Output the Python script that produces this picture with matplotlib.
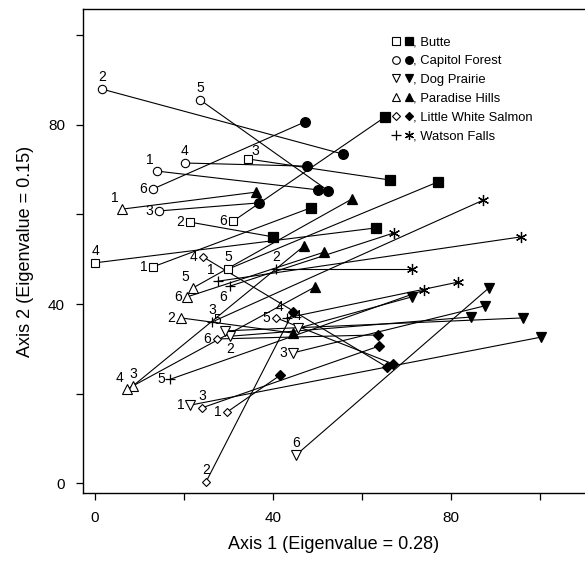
import matplotlib
matplotlib.use("Agg")
import matplotlib.pyplot as plt
from matplotlib.lines import Line2D
from matplotlib.legend_handler import HandlerTuple

plt.rcParams['font.family'] = ['Liberation Sans', 'DejaVu Sans']

sites = ["Butte", "Capitol Forest", "Dog Prairie", "Paradise Hills",
         "Little White Salmon", "Watson Falls"]
plot_ids = [1, 2, 3, 4, 5, 6]

# time-1 (open symbols) and time-2 (filled symbols) coordinates, plots 1..6
butte_x1 = [13.0, 21.3, 34.4, 0.0, 29.9, 31.0]
butte_y1 = [48.3, 58.3, 72.4, 49.2, 47.8, 58.5]
butte_x2 = [48.5, 40.0, 66.3, 63.1, 77.1, 65.2]
butte_y2 = [61.5, 55.0, 67.7, 57.0, 67.3, 81.8]

capitol_x1 = [13.9, 1.6, 14.4, 20.2, 23.6, 13.0]
capitol_y1 = [69.7, 88.0, 60.8, 71.5, 85.6, 65.7]
capitol_x2 = [50.1, 55.7, 36.9, 47.6, 52.4, 47.2]
capitol_y2 = [65.5, 73.5, 62.6, 70.8, 65.3, 80.7]

dog_x1 = [21.3, 30.3, 44.5, 45.6, 29.2, 45.2]
dog_y1 = [17.4, 32.8, 29.1, 34.6, 34.0, 6.3]
dog_x2 = [100.2, 84.5, 87.6, 71.2, 96.2, 88.5]
dog_y2 = [32.6, 37.1, 39.6, 41.6, 36.9, 43.6]

paradise_x1 = [6.1, 19.3, 8.5, 7.2, 22.0, 20.7]
paradise_y1 = [61.2, 36.9, 21.7, 21.0, 43.6, 41.6]
paradise_x2 = [36.2, 44.5, 47.0, 49.4, 57.8, 51.5]
paradise_y2 = [65.0, 33.5, 53.0, 43.8, 63.5, 51.6]

lws_x1 = [29.7, 24.9, 24.0, 24.3, 40.7, 27.4]
lws_y1 = [15.9, 0.2, 16.8, 50.5, 36.9, 32.2]
lws_x2 = [41.6, 44.5, 63.8, 65.6, 67.0, 63.6]
lws_y2 = [24.1, 38.2, 30.6, 25.9, 26.6, 33.1]

watson_x1 = [27.6, 40.7, 26.3, 43.1, 16.9, 30.3]
watson_y1 = [45.1, 47.8, 36.0, 36.9, 23.2, 44.0]
watson_x2 = [95.7, 71.2, 87.2, 81.6, 73.9, 67.2]
watson_y2 = [55.0, 47.8, 63.2, 44.9, 43.1, 55.9]

x_ticks = [0, 20, 40, 60, 80, 100]
y_ticks = [0, 20, 40, 60, 80, 100]
tick_labels = ["0", "", "40", "", "80", ""]

# ---- styles (not data) ----
site_data = [
    (butte_x1, butte_y1, butte_x2, butte_y2),
    (capitol_x1, capitol_y1, capitol_x2, capitol_y2),
    (dog_x1, dog_y1, dog_x2, dog_y2),
    (paradise_x1, paradise_y1, paradise_x2, paradise_y2),
    (lws_x1, lws_y1, lws_x2, lws_y2),
    (watson_x1, watson_y1, watson_x2, watson_y2),
]
open_markers = ['s', 'o', 'v', '^', 'D', '+']
filled_markers = ['s', 'o', 'v', '^', 'D', (6, 2, 0)]
open_sizes = [6, 6, 6.5, 6.5, 4.5, 7]
filled_sizes = [7, 7, 7.5, 7.5, 5.5, 8]
label_pos = [
    ['l', 'l', 'tr', 't', 't', 'l'],
    ['tl', 't', 'l', 't', 't', 'l'],
    ['l', 'b', 'l', 't', 'tl', 't'],
    ['tl', 'l', 't', 'tl', 'tl', 'l'],
    ['l', 't', 't', 'l', 'l', 'l'],
    ['tl', 't', 't', 'tl', 'l', 'bl'],
]
offs = {
    'l': ((-4, 0), 'right', 'center'),
    't': ((0, 3.5), 'center', 'bottom'),
    'tl': ((-2.5, 3), 'right', 'bottom'),
    'tr': ((2.5, 1), 'left', 'bottom'),
    'b': ((0, -4), 'center', 'top'),
    'bl': ((-2, -2.5), 'right', 'top'),
}

fig = plt.figure(figsize=(5.85, 5.64), dpi=100)
ax = fig.add_axes([0.142, 0.126, 0.858, 0.858])

for s, (x1, y1, x2, y2) in enumerate(site_data):
    for i in range(len(plot_ids)):
        ax.plot([x1[i], x2[i]], [y1[i], y2[i]], color='black', lw=0.8, zorder=1)
    if open_markers[s] == '+':
        ax.plot(x1, y1, ls='', marker='+', ms=open_sizes[s], mec='black', mew=0.9, zorder=3)
    else:
        ax.plot(x1, y1, ls='', marker=open_markers[s], ms=open_sizes[s],
                mfc='white', mec='black', mew=0.8, zorder=3)
    ax.plot(x2, y2, ls='', marker=filled_markers[s], ms=filled_sizes[s],
            mfc='black', mec='black', mew=0.9, zorder=3)
    for i, pid in enumerate(plot_ids):
        (dx, dy), ha, va = offs[label_pos[s][i]]
        ax.annotate(str(pid), (x1[i], y1[i]), xytext=(dx, dy), textcoords='offset points',
                    ha=ha, va=va, fontsize=10, zorder=4)

ax.set_xlim(-2.7, 110.1)
ax.set_ylim(-2.2, 105.9)
ax.spines['right'].set_visible(False)
for sp in ['left', 'bottom', 'top']:
    ax.spines[sp].set_linewidth(1.0)
ax.set_xticks(x_ticks)
ax.set_xticklabels(tick_labels)
ax.set_yticks(y_ticks)
ax.set_yticklabels(tick_labels)
ax.tick_params(direction='out', length=5, width=0.9, labelsize=11, pad=8)
ax.set_xlabel("Axis 1 (Eigenvalue = 0.28)", fontsize=13, labelpad=8)
ax.set_ylabel("Axis 2 (Eigenvalue = 0.15)", fontsize=13, labelpad=10)

handles = []
for s in range(len(sites)):
    if open_markers[s] == '+':
        h1 = Line2D([], [], ls='', marker='+', ms=open_sizes[s] - 0.5, mec='black', mew=0.9)
    else:
        h1 = Line2D([], [], ls='', marker=open_markers[s], ms=open_sizes[s] - 0.5,
                    mfc='white', mec='black', mew=0.8)
    h2 = Line2D([], [], ls='', marker=filled_markers[s], ms=filled_sizes[s] - 1.5,
                mfc='black', mec='black', mew=0.9)
    handles.append((h1, h2))
leg = ax.legend(handles, [", " + n for n in sites],
                handler_map={tuple: HandlerTuple(ndivide=None, pad=0.3)},
                loc='upper left', bbox_to_anchor=(0.605, 0.955), frameon=False,
                fontsize=9.4, handlelength=1.6, handletextpad=0.0,
                labelspacing=0.52, borderaxespad=0)

fig.savefig("out.png", dpi=100)
